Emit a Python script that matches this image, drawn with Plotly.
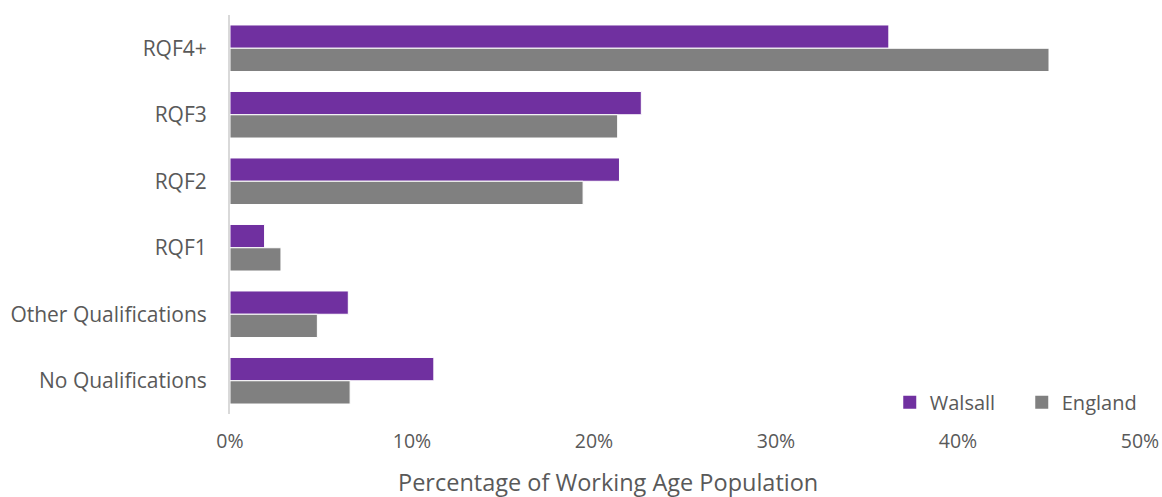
import plotly.graph_objects as go

categories = ["RQF4+", "RQF3", "RQF2", "RQF1", "Other Qualifications", "No Qualifications"]
walsall = [36.2, 22.6, 21.4, 1.9, 6.5, 11.2]
england = [45.0, 21.3, 19.4, 2.8, 4.8, 6.6]
x_ticks = [0, 10, 20, 30, 40, 50]
x_tick_labels = ["0%", "10%", "20%", "30%", "40%", "50%"]
x_title = "Percentage of Working Age Population"

FONT = "Open Sans"
TEXT = "#595959"
PURPLE = "#7030A0"
GREY = "#808080"

fig = go.Figure()
fig.add_trace(go.Bar(
    y=categories, x=walsall, orientation="h", name="Walsall", showlegend=False,
    marker=dict(color=PURPLE, line=dict(color="#ffffff", width=1)),
))
fig.add_trace(go.Bar(
    y=categories, x=england, orientation="h", name="England", showlegend=False,
    marker=dict(color=GREY, line=dict(color="#ffffff", width=1)),
))
# legend entries with larger square symbols
for name, col in [("Walsall", PURPLE), ("England", GREY)]:
    fig.add_trace(go.Scatter(
        x=[None], y=[None], mode="markers", name=name,
        marker=dict(symbol="square", size=13, color=col),
    ))

fig.update_layout(
    width=1162, height=497,
    margin=dict(l=230, r=22, t=15, b=83, autoexpand=False),
    paper_bgcolor="white", plot_bgcolor="white",
    barmode="group", bargap=0.3, bargroupgap=0,
    font=dict(family=FONT, size=20, color=TEXT),
    legend=dict(
        orientation="h", x=0.725, y=-0.0195, xanchor="left", yanchor="bottom",
        font=dict(size=20, color=TEXT), bgcolor="rgba(0,0,0,0)",
        itemwidth=30, entrywidth=87, entrywidthmode="pixels",
        tracegroupgap=0,
    ),
    showlegend=True,
    annotations=[dict(
        text=x_title, xref="paper", yref="paper", x=0.415, y=-0.17,
        xanchor="center", yanchor="middle", showarrow=False,
        font=dict(size=23.5, color=TEXT, family=FONT),
    )],
)
fig.update_xaxes(
    range=[0, 50], tickvals=x_ticks, ticktext=x_tick_labels,
    showgrid=False, zeroline=False, showline=False, ticks="",
    automargin=False, ticklabelstandoff=13,
    tickfont=dict(size=19.5),
)
fig.update_yaxes(
    autorange="reversed", showgrid=False, zeroline=False,
    showline=True, linecolor="#d9d9d9", linewidth=2, ticks="",
    automargin=False, ticklabelstandoff=17,
    tickfont=dict(size=21),
)

fig.write_html(
    "out.html",
    config={"displayModeBar": False},
    post_script="document.body.style.margin='0';document.body.style.overflow='hidden';",
)
